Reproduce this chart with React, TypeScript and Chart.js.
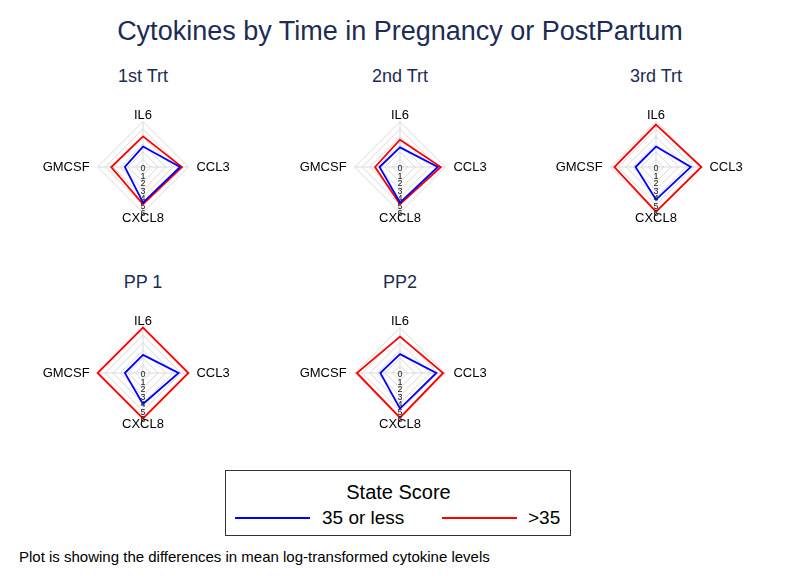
import React, { useEffect, useRef } from "react";
import { Chart, registerables } from "chart.js";

Chart.register(...registerables);

// ---- data ----
const cytokines = ["IL6", "CCL3", "CXCL8", "GMCSF"];
const panelTitles = ["1st Trt", "2nd Trt", "3rd Trt", "PP 1", "PP2"];
const seriesNames = ["35 or less", ">35"];
const tickValues = [0, 1, 2, 3, 4, 5, 6];

// "35 or less" (blue)
const low1st = [2.7, 4.9, 4.7, 2.4];
const low2nd = [2.6, 5.0, 4.7, 2.7];
const low3rd = [2.7, 4.6, 4.3, 2.7];
const lowPP1 = [2.4, 4.7, 4.1, 2.4];
const lowPP2 = [2.5, 4.8, 4.7, 2.6];

// ">35" (red)
const high1st = [4.05, 5.15, 4.9, 4.2];
const high2nd = [3.6, 5.4, 4.9, 3.3];
const high3rd = [5.6, 6.0, 5.9, 5.5];
const highPP1 = [6.0, 6.0, 6.0, 6.0];
const highPP2 = [4.8, 5.7, 5.9, 5.7];

const lowSeries = [low1st, low2nd, low3rd, lowPP1, lowPP2];
const highSeries = [high1st, high2nd, high3rd, highPP1, highPP2];

// ---- layout / style ----
const FONT = "'Liberation Sans', Arial, Helvetica, sans-serif";
const NAVY = "#1c2c55";
const BLUE = "#0000ff";
const RED = "#ff0000";
const GRID = "#d9d9d9";
const CANVAS_W = 260;
const CANVAS_H = 118;
const panelCenters = [
  { x: 143, y: 167, ty: 75.5 },
  { x: 400, y: 167, ty: 75.5 },
  { x: 656, y: 167, ty: 75.5 },
  { x: 143, y: 373, ty: 281.5 },
  { x: 400, y: 373, ty: 281.5 },
];

const tickPlugin = {
  id: "axisTickDigits",
  afterDatasetsDraw(chart: any) {
    const scale = chart.scales.r;
    const ctx = chart.ctx;
    ctx.save();
    ctx.font = `9px ${FONT}`;
    ctx.fillStyle = "#222";
    ctx.textAlign = "center";
    ctx.textBaseline = "middle";
    tickValues.forEach((v) => {
      const p = scale.getPointPositionForValue(2, v);
      ctx.fillText(String(v), p.x, p.y + 1.5);
    });
    ctx.restore();
  },
};

function RadarPanel({ index }: { index: number }) {
  const ref = useRef<HTMLCanvasElement | null>(null);
  useEffect(() => {
    if (!ref.current) return;
    const chart = new Chart(ref.current, {
      type: "radar",
      data: {
        labels: cytokines,
        datasets: [
          {
            label: seriesNames[0],
            data: lowSeries[index],
            borderColor: BLUE,
            backgroundColor: "rgba(0,0,0,0)",
            borderWidth: 1.8,
            pointRadius: 0,
            fill: false,
          },
          {
            label: seriesNames[1],
            data: highSeries[index],
            borderColor: RED,
            backgroundColor: "rgba(0,0,0,0)",
            borderWidth: 1.8,
            pointRadius: 0,
            fill: false,
          },
        ],
      },
      options: {
        responsive: false,
        animation: false,
        events: [],
        layout: { padding: 0 },
        plugins: {
          legend: { display: false },
          title: { display: false },
          tooltip: { enabled: false },
        },
        scales: {
          r: {
            min: 0,
            max: 6,
            beginAtZero: true,
            ticks: { display: false, stepSize: 1 },
            grid: { color: GRID, lineWidth: 1 },
            angleLines: { color: GRID, lineWidth: 1 },
            pointLabels: {
              color: "#000",
              font: { family: FONT, size: 13 },
              padding: (ctx: any) => (ctx.index % 2 === 1 ? 8 : -2),
            },
          },
        },
      },
      plugins: [tickPlugin],
    } as any);
    return () => chart.destroy();
  }, [index]);

  const c = panelCenters[index];
  return (
    <>
      <div
        style={{
          position: "absolute",
          left: c.x - 100,
          width: 200,
          top: c.ty - 12,
          height: 24,
          lineHeight: "24px",
          textAlign: "center",
          fontSize: 18,
          color: NAVY,
          fontFamily: FONT,
        }}
      >
        {panelTitles[index]}
      </div>
      <canvas
        ref={ref}
        width={CANVAS_W}
        height={CANVAS_H}
        style={{
          position: "absolute",
          left: c.x - CANVAS_W / 2,
          top: c.y - CANVAS_H / 2,
          width: CANVAS_W,
          height: CANVAS_H,
        }}
      />
    </>
  );
}

export default function App() {
  return (
    <div
      style={{
        position: "fixed",
        left: 0,
        top: 0,
        width: 800,
        height: 583,
        background: "#fff",
        fontFamily: FONT,
        overflow: "hidden",
      }}
    >
      <div
        style={{
          position: "absolute",
          left: 0,
          width: 800,
          top: 30.5 - 16,
          height: 32,
          lineHeight: "32px",
          textAlign: "center",
          fontSize: 27,
          color: NAVY,
        }}
      >
        Cytokines by Time in Pregnancy or PostPartum
      </div>

      {panelTitles.map((_, i) => (
        <RadarPanel key={i} index={i} />
      ))}

      {/* legend */}
      <div
        style={{
          position: "absolute",
          left: 225,
          top: 470,
          width: 346,
          height: 66,
          border: "1px solid #333",
          boxSizing: "border-box",
        }}
      />
      <div
        style={{
          position: "absolute",
          left: 225,
          width: 347,
          top: 492 - 13,
          height: 26,
          lineHeight: "26px",
          textAlign: "center",
          fontSize: 20,
          color: "#000",
        }}
      >
        State Score
      </div>
      <div style={{ position: "absolute", left: 235, top: 517, width: 75, height: 2, background: BLUE }} />
      <div
        style={{
          position: "absolute",
          left: 322,
          top: 518 - 12,
          height: 24,
          lineHeight: "24px",
          fontSize: 19,
          color: "#000",
          whiteSpace: "nowrap",
        }}
      >
        {seriesNames[0]}
      </div>
      <div style={{ position: "absolute", left: 442, top: 517, width: 75, height: 2, background: RED }} />
      <div
        style={{
          position: "absolute",
          left: 528,
          top: 518 - 12,
          height: 24,
          lineHeight: "24px",
          fontSize: 19,
          color: "#000",
          whiteSpace: "nowrap",
        }}
      >
        {seriesNames[1]}
      </div>

      <div
        style={{
          position: "absolute",
          left: 19,
          top: 557 - 10,
          height: 20,
          lineHeight: "20px",
          fontSize: 15,
          color: "#000",
          whiteSpace: "nowrap",
        }}
      >
        Plot is showing the differences in mean log-transformed cytokine levels
      </div>
    </div>
  );
}
